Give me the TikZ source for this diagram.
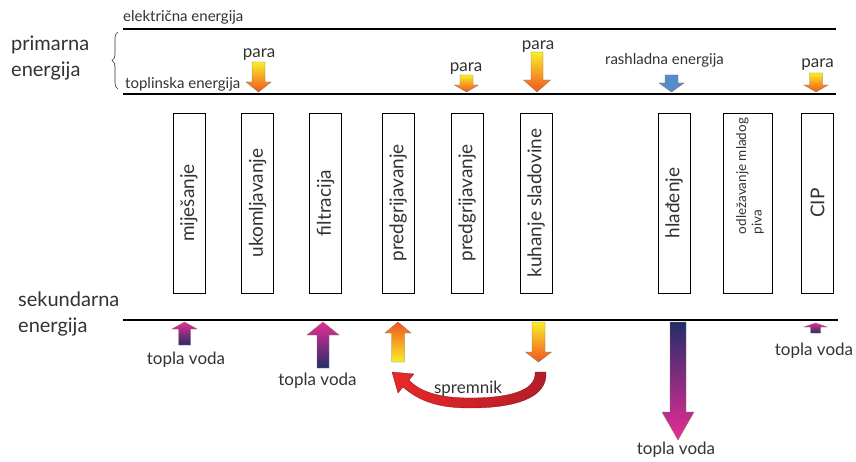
\documentclass[tikz,border=0pt]{standalone}
\usepackage{fontspec}
\setmainfont{Lato}
\usetikzlibrary{decorations.pathreplacing,positioning}

\definecolor{steamtop}{RGB}{250,238,40}
\definecolor{steambot}{RGB}{240,85,30}
\definecolor{watertop}{RGB}{232,45,150}
\definecolor{waterbot}{RGB}{35,45,105}
\definecolor{coolblue}{RGB}{85,140,205}
\definecolor{arrowline}{RGB}{140,120,100}
\definecolor{tankred}{RGB}{232,40,40}
\definecolor{tankdark}{RGB}{180,28,40}
\definecolor{textgray}{RGB}{50,50,50}

\tikzset{
  procbox/.style={draw, line width=0.9pt, minimum width=180pt, minimum height=32pt,
    rotate=90, inner sep=0pt, text=textgray, font=\fontsize{19}{21}\selectfont},
  energyline/.style={line width=2pt},
  smalllabel/.style={font=\fontsize{15}{17}\selectfont, inner sep=0pt, text=textgray},
  flowlabel/.style={font=\fontsize{17}{19}\selectfont, inner sep=0pt, text=textgray},
  biglabel/.style={font=\fontsize{20}{26}\selectfont, align=left, inner sep=0pt, text=textgray}
}

% vertical block arrow: x, tail y, head base y, tip y, half shaft, half head, top colour, bottom colour
\newcommand{\blockarrow}[8]{%
  \shade[top color=#7, bottom color=#8, draw=arrowline, line width=0.4pt]
  (#1-#5,#2) -- (#1+#5,#2) -- (#1+#5,#3) -- (#1+#6,#3) -- (#1,#4)
  -- (#1-#6,#3) -- (#1-#5,#3) -- cycle;}

\begin{document}
\begin{tikzpicture}[x=1pt,y=-1pt]
\useasboundingbox (0,0) rectangle (856,462);

% energy levels
\coordinate (el-w) at (123,29);  \coordinate (el-e) at (836,29);
\coordinate (th-w) at (123,94);  \coordinate (th-e) at (836,94);
\coordinate (sec-w) at (123,320); \coordinate (sec-e) at (838,320);
\draw[energyline] (el-w) -- (el-e);
\draw[energyline] (th-w) -- (th-e);
\draw[energyline] (sec-w) -- (sec-e);

\node[smalllabel, anchor=base west] (eltext) at (123,22) {električna energija};
\node[smalllabel, anchor=base west] (thtext) at (125,89) {toplinska energija};
\node[biglabel, anchor=north west] (primary) at (11,36) {primarna\\energija};
\node[biglabel, anchor=north west] (secondary) at (18,292) {sekundarna\\energija};
\draw[decorate, decoration={brace, amplitude=6pt}, line width=0.6pt, textgray]
  (118,89) -- (118,32);

% process steps
\node[procbox] (mix)   at (189,203)   {miješanje};
\node[procbox] (mash)  at (257.5,203) {ukomljavanje};
\node[procbox] (filt)  at (325.5,203) {filtracija};
\node[procbox] (preA)  at (398,203)   {predgrijavanje};
\node[procbox] (preB)  at (467,203)   {predgrijavanje};
\node[procbox] (boil)  at (536,203)   {kuhanje sladovine};
\node[procbox] (cool)  at (674,203)   {hlađenje};
\node[procbox, minimum height=49pt] (aging) at (747.5,203) {};
\node[rotate=90, align=left, inner sep=0pt, text=textgray,
  font=\fontsize{13.5}{15.5}\selectfont] (agingtext) at (750,176) {odležavanje mladog\\piva};
\node[procbox] (cip)   at (817.5,203) {CIP};

% steam and cooling supply
\blockarrow{258.5}{62}{82}{92}{6.5}{12.5}{steamtop}{steambot}
\blockarrow{466.5}{75}{85}{92}{6.5}{12}{steamtop}{steambot}
\blockarrow{537}{52}{80}{92}{6}{13.5}{steamtop}{steambot}
\blockarrow{671.5}{75}{83}{92}{6.5}{12.5}{coolblue}{coolblue}
\blockarrow{816}{73}{85}{92}{6.5}{12}{steamtop}{steambot}
\node[flowlabel, anchor=base] (paraA) at (259,58) {para};
\node[flowlabel, anchor=base] (paraB) at (466,72) {para};
\node[flowlabel, anchor=base] (paraC) at (538,50) {para};
\node[smalllabel, anchor=base] (coollabel) at (664.5,65) {rashladna energija};
\node[flowlabel, anchor=base] (paraD) at (817.5,68) {para};

% secondary energy
\blockarrow{184.5}{345}{329}{322}{6}{12.5}{watertop}{waterbot}
\blockarrow{323}{368}{335}{322}{6}{16}{watertop}{waterbot}
\blockarrow{398}{362}{333}{322}{6.5}{13}{steambot}{steamtop}
\blockarrow{538.5}{322}{352}{362}{6.5}{13}{steamtop}{steambot}
\blockarrow{678}{322}{412}{440}{8}{16}{waterbot}{watertop}
\blockarrow{815.5}{333}{327}{323}{5}{11.5}{watertop}{waterbot}
\node[flowlabel, anchor=base] (waterA) at (186,364) {topla voda};
\node[flowlabel, anchor=base] (waterB) at (317.5,385) {topla voda};
\node[flowlabel, anchor=base] (waterC) at (676,454) {topla voda};
\node[flowlabel, anchor=base] (waterD) at (814,355) {topla voda};

% heat storage loop
\shade[left color=tankred, right color=tankdark, draw=tankdark!70!black, line width=0.3pt]
  (535,372) .. controls (537,392) and (505,398) .. (470,398)
  .. controls (440,398) and (420,392) .. (409,380)
  -- (414,374) -- (392,372) -- (398,393) -- (403,387)
  .. controls (420,402) and (440,408) .. (470,408)
  .. controls (515,408) and (548,398) .. (546,372) -- cycle;
\node[flowlabel, anchor=base] (tank) at (468,393) {spremnik};
\end{tikzpicture}
\end{document}
